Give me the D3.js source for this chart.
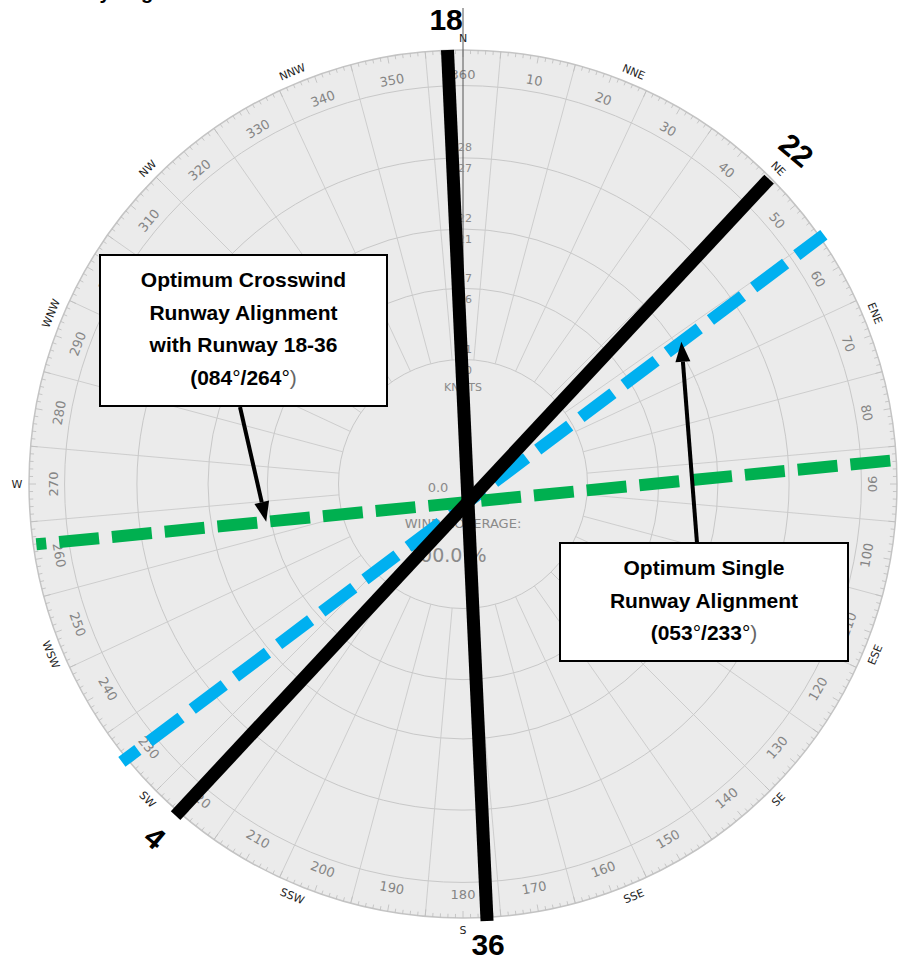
<!DOCTYPE html>
<html lang="en">
<head>
<meta charset="UTF-8" />
<title>Runway Alignment Wind Rose</title>
<script src="https://d3js.org/d3.v7.min.js"></script>
<style>
    body { margin: 0; background: #fff; }
    svg { display: block; }
</style>
</head>
<body>
<div id="chart"></div>
<script>
    // ---- data ----
    var degreeLabels = [10, 20, 30, 40, 50, 60, 70, 80, 90, 100, 110, 120,
                        130, 140, 150, 160, 170, 180, 190, 200, 210, 220, 230, 240,
                        250, 260, 270, 280, 290, 300, 310, 320, 330, 340, 350, 360];
    var compassPoints = ["N", "NNE", "NE", "ENE", "E", "ESE", "SE", "SSE",
                         "S", "SSW", "SW", "WSW", "W", "WNW", "NW", "NNW"];
    var speedRings = [10.5, 16.5, 21.5, 27.5];          // knots
    var speedLow = ["10", "16", "21", "27"];
    var speedHigh = ["11", "17", "22", "28"];

    // runways and optimum alignments (bearing of first end, extents in knot units)
    var lineIds = ["rwy1836", "rwy422", "single", "cross"];
    var lineBearings = [357.4, 43.0, 53.1, 84.4];
    var lineExtentFwd = [38.16, 37.23, 37.53, 36.38];
    var lineExtentBack = [35.37, 36.16, 36.5, 36.58];
    var endLabelsFwd = ["18", "22", null, null];
    var endLabelsBack = ["36", "4", null, null];

    // ---- layout ----
    var w = 904, h = 963;
    var cx = 463, cy = 484;          // rose centre
    var crossX = 468, crossY = 502;  // where the runway overlay crosses
    var maxKnots = 36.6, bandKnots = 33.6;

    var svg = d3.select("#chart").append("svg")
        .attr("width", w).attr("height", h);

    var rScale = d3.scaleLinear().domain([0, maxKnots]).range([0, 434]);
    var aScale = d3.scaleLinear().domain([0, 360]).range([0, 2 * Math.PI]);

    function pt(x0, y0, bearing, r) {
        var a = aScale(bearing);
        return [x0 + r * Math.sin(a), y0 - r * Math.cos(a)];
    }
    function labelRot(a) {
        if (a > 90 && a < 270) return a - 180;
        if (a >= 270) return a - 360;
        return a;
    }

    // title fragment (cut off at top)
    svg.append("text")
        .attr("x", 34).attr("y", -1)
        .style("font-family", "Liberation Sans, Arial, sans-serif")
        .style("font-weight", "bold").style("font-size", "20px")
        .text("Runway Alignment");

    // ---- rose ----
    var rose = svg.append("g");
    rose.append("circle").attr("cx", cx).attr("cy", cy)
        .attr("r", rScale(maxKnots))
        .attr("fill", "#ebebeb").attr("stroke", "#c4c4c4").attr("stroke-width", 1.5);
    rose.append("circle").attr("cx", cx).attr("cy", cy)
        .attr("r", rScale(bandKnots))
        .attr("fill", "none").attr("stroke", "#c8c8c8").attr("stroke-width", 1);

    rose.selectAll(".ring").data(speedRings).enter().append("circle")
        .attr("cx", cx).attr("cy", cy)
        .attr("r", function(d) { return rScale(d); })
        .attr("fill", "none").attr("stroke", "#c8c8c8").attr("stroke-width", 1);

    // sector boundaries, halfway between the labelled directions
    rose.selectAll(".spoke").data(degreeLabels).enter().append("line")
        .each(function(d) {
            var p0 = pt(cx, cy, d - 5, rScale(speedRings[0]));
            var p1 = pt(cx, cy, d - 5, rScale(maxKnots));
            d3.select(this).attr("x1", p0[0]).attr("y1", p0[1])
                .attr("x2", p1[0]).attr("y2", p1[1]);
        })
        .attr("stroke", "#cacaca").attr("stroke-width", 0.9);

    // one-degree ticks on the rim
    rose.selectAll(".tick").data(d3.range(0, 360)).enter().append("line")
        .each(function(d) {
            var len = d % 5 === 0 ? 7 : 4;
            var p0 = pt(cx, cy, d, rScale(maxKnots));
            var p1 = pt(cx, cy, d, rScale(maxKnots) - len);
            d3.select(this).attr("x1", p0[0]).attr("y1", p0[1])
                .attr("x2", p1[0]).attr("y2", p1[1]);
        })
        .attr("stroke", "#bdbdbd").attr("stroke-width", 0.8);

    // degree numbers
    rose.selectAll(".deg").data(degreeLabels).enter().append("text")
        .attr("transform", function(d) {
            var p = pt(cx, cy, d, 410);
            return "translate(" + p[0] + "," + p[1] + ") rotate(" + labelRot(d % 360) + ")";
        })
        .attr("text-anchor", "middle").attr("dy", "0.35em")
        .style("font-family", "DejaVu Sans, sans-serif").style("font-size", "13px")
        .attr("fill", "#858585")
        .text(function(d) { return d; });

    // compass points (only those that fall inside the picture)
    var compassPos = compassPoints.map(function(d, i) {
        return { name: d, a: i * 22.5, p: pt(cx, cy, i * 22.5, 446), cardinal: i % 4 === 0 };
    }).filter(function(d) { return d.p[0] > 5 && d.p[0] < w - 5 && d.p[1] > 5 && d.p[1] < h - 5; });

    rose.selectAll(".cmp").data(compassPos).enter().append("text")
        .attr("transform", function(d) {
            var r = d.cardinal ? 0 : labelRot(d.a);
            return "translate(" + d.p[0] + "," + d.p[1] + ") rotate(" + r + ")";
        })
        .attr("text-anchor", "middle").attr("dy", "0.35em")
        .style("font-family", "DejaVu Sans, sans-serif").style("font-size", "11px")
        .attr("fill", "#1e1e1e")
        .text(function(d) { return d.name; });

    // north axis
    var nTop = pt(cx, cy, 0, 476);
    rose.append("line").attr("x1", cx).attr("y1", cy)
        .attr("x2", nTop[0]).attr("y2", nTop[1])
        .attr("stroke", "#555").attr("stroke-width", 1);

    // speed class labels along the north axis
    rose.selectAll(".spdHi").data(speedRings).enter().append("text")
        .attr("x", cx - 5)
        .attr("y", function(d) { return cy - rScale(d) - 10.5; })
        .attr("dy", "0.35em")
        .style("font-family", "DejaVu Sans, sans-serif").style("font-size", "11px")
        .attr("fill", "#8a8a8a")
        .text(function(d, i) { return speedHigh[i]; });
    rose.selectAll(".spdLo").data(speedRings).enter().append("text")
        .attr("x", cx - 5)
        .attr("y", function(d) { return cy - rScale(d) + 10.5; })
        .attr("dy", "0.35em")
        .style("font-family", "DejaVu Sans, sans-serif").style("font-size", "11px")
        .attr("fill", "#8a8a8a")
        .text(function(d, i) { return speedLow[i]; });

    // centre texts
    var centreFont = "DejaVu Sans, sans-serif";
    rose.append("text").attr("x", cx).attr("y", 391).attr("text-anchor", "middle")
        .style("font-family", centreFont).style("font-size", "11px").attr("fill", "#8a8a8a")
        .text("KNOTS");
    rose.append("text").attr("x", 438).attr("y", 492).attr("text-anchor", "middle")
        .style("font-family", centreFont).style("font-size", "13px").attr("fill", "#8a8a8a")
        .text("0.0");
    rose.append("text").attr("x", cx).attr("y", 528).attr("text-anchor", "middle")
        .style("font-family", centreFont).style("font-size", "13px").attr("fill", "#8a8a8a")
        .text("WIND COVERAGE:");
    rose.append("text").attr("x", 408).attr("y", 562)
        .style("font-family", centreFont).style("font-size", "19px").attr("fill", "#8a8a8a")
        .text("100.0 %");

    // ---- runway overlay ----
    var styles = {
        rwy1836: { color: "#000", width: 13, dash: null, offset: 0, gapFwd: 31, gapBack: 23, rot: 0 },
        rwy422: { color: "#000", width: 13, dash: null, offset: 0, gapFwd: 40, gapBack: 30, rot: 40 },
        single: { color: "#00b0f0", width: 12, dash: "40,14", offset: 20 },
        cross: { color: "#00b050", width: 12, dash: "40,13", offset: 30 }
    };

    var overlay = svg.append("g");
    var dashedLayer = overlay.append("g");
    var solidLayer = overlay.append("g");
    lineIds.forEach(function(id, i) {
        var st = styles[id];
        var b = lineBearings[i];
        var pBack = pt(crossX, crossY, b + 180, rScale(lineExtentBack[i]));
        var pFwd = pt(crossX, crossY, b, rScale(lineExtentFwd[i]));
        // dashed lines are drawn from their southern / western end, under the runways
        var ln = (st.dash ? dashedLayer : solidLayer).append("line")
            .attr("x1", pBack[0]).attr("y1", pBack[1])
            .attr("x2", pFwd[0]).attr("y2", pFwd[1])
            .attr("stroke", st.color).attr("stroke-width", st.width);
        if (st.dash) ln.attr("stroke-dasharray", st.dash).attr("stroke-dashoffset", st.offset);
    });

    // runway end numbers
    lineIds.forEach(function(id, i) {
        var st = styles[id];
        var b = lineBearings[i];
        [[endLabelsFwd[i], b, lineExtentFwd[i], st.gapFwd], [endLabelsBack[i], b + 180, lineExtentBack[i], st.gapBack]]
            .forEach(function(e) {
                if (!e[0]) return;
                var p = pt(crossX, crossY, e[1], rScale(e[2]) + e[3]);
                overlay.append("text")
                    .attr("transform", "translate(" + p[0] + "," + p[1] + ") rotate(" + st.rot + ")")
                    .attr("text-anchor", "middle").attr("dy", "0.36em")
                    .style("font-family", "Liberation Sans, Arial, sans-serif")
                    .style("font-weight", "bold").style("font-size", "30px")
                    .attr("fill", "#000")
                    .text(e[0]);
            });
    });

    // ---- callouts ----
    var boxFont = "Liberation Sans, Arial, sans-serif";
    function arrow(x0, y0, tip) {
        var dx = tip[0] - x0, dy = tip[1] - y0;
        var len = Math.sqrt(dx * dx + dy * dy);
        var ux = dx / len, uy = dy / len;
        var head = 20, half = 7.5;
        var bx = tip[0] - ux * head, by = tip[1] - uy * head;
        overlay.append("line").attr("x1", x0).attr("y1", y0)
            .attr("x2", bx).attr("y2", by)
            .attr("stroke", "#000").attr("stroke-width", 4);
        overlay.append("polygon")
            .attr("points", [tip, [bx - uy * half, by + ux * half], [bx + uy * half, by - ux * half]]
                .map(function(p) { return p.join(","); }).join(" "))
            .attr("fill", "#000");
    }
    function callout(x, y, bw, bh, lines, degs, firstBase) {
        overlay.append("rect").attr("x", x).attr("y", y)
            .attr("width", bw).attr("height", bh)
            .attr("fill", "#fff").attr("stroke", "#000").attr("stroke-width", 2);
        var mid = x + bw / 2;
        lines.forEach(function(t, i) {
            overlay.append("text").attr("x", mid).attr("y", firstBase + i * 32.7)
                .attr("text-anchor", "middle")
                .style("font-family", boxFont).style("font-weight", "bold").style("font-size", "21px")
                .text(t);
        });
        var last = overlay.append("text").attr("x", mid).attr("y", firstBase + lines.length * 32.7)
            .attr("text-anchor", "middle")
            .style("font-family", boxFont).style("font-size", "21px");
        last.append("tspan").style("font-weight", "bold").text("(" + degs[0]);
        last.append("tspan").style("font-weight", "normal").text("\u00B0");
        last.append("tspan").style("font-weight", "bold").text("/" + degs[1]);
        last.append("tspan").style("font-weight", "normal").text("\u00B0");
        last.append("tspan").style("font-weight", "normal").attr("fill", "#666").text(")");
    }

    // crosswind callout, arrow pointing at the crosswind line
    var crossIdx = lineIds.indexOf("cross");
    arrow(240, 407, pt(crossX, crossY, lineBearings[crossIdx] + 180, rScale(17.1)));
    callout(100, 255, 287, 151, ["Optimum Crosswind", "Runway Alignment", "with Runway 18-36"],
        ["084", "264"], 287);

    // single runway callout, arrow pointing at the single runway line
    var singleIdx = lineIds.indexOf("single");
    arrow(697, 543, pt(crossX, crossY, lineBearings[singleIdx], rScale(22.5)));
    callout(560, 543, 288, 118, ["Optimum Single", "Runway Alignment"],
        ["053", "233"], 575);
</script>
</body>
</html>
